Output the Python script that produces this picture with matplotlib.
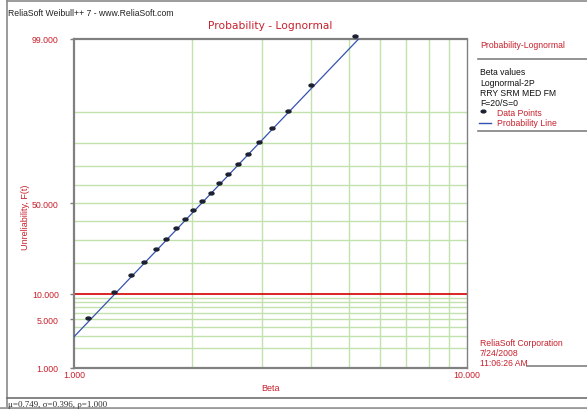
import numpy as np
import matplotlib
matplotlib.use('Agg')
import matplotlib.pyplot as plt
from matplotlib.lines import Line2D
from matplotlib.path import Path
from matplotlib.transforms import Affine2D
from matplotlib.ticker import FixedLocator, NullLocator
from statistics import NormalDist

# Beta values (time) and their unreliability positions in percent
beta = [1.084, 1.262, 1.397, 1.510, 1.617, 1.715, 1.815, 1.917, 2.012, 2.121,
        2.232, 2.343, 2.470, 2.614, 2.767, 2.957, 3.190, 3.510, 4.016, 5.188]
unrel = [5.2, 10.3, 15.5, 20.3, 25.6, 30.7, 36.1, 40.9, 46.0, 51.0,
         55.9, 61.1, 65.9, 70.7, 75.6, 80.6, 85.6, 90.4, 95.3, 99.1]

# fitted lognormal parameters
mu = 0.749
sigma = 0.396
rho = 1.000

y_major = [1, 5, 10, 50, 99]
y_grid = [2, 3, 4, 5, 6, 7, 8, 9, 20, 30, 40, 50, 60, 70, 80, 90]
x_grid = [2, 3, 4, 5, 6, 7, 8, 9]

RED = '#c8202c'
GRID = '#c2e2ad'
SPINE = '#808080'
BLUE = '#3552b0'
SANS = 'Liberation Sans'

W, H = 587, 410
nd = NormalDist()
_ppf = np.vectorize(nd.inv_cdf, otypes=[float])
_cdf = np.vectorize(nd.cdf, otypes=[float])


def fx(x):
    return x / W


def fy(y):
    return 1 - y / H


def prob_fwd(p):
    p = np.clip(np.asarray(p, dtype=float) / 100.0, 1e-9, 1 - 1e-9)
    return _ppf(p)


def prob_inv(z):
    return _cdf(np.asarray(z, dtype=float)) * 100.0


fig = plt.figure(figsize=(W / 100, H / 100), dpi=100)
ax = fig.add_axes([fx(74), fy(368.5), fx(467 - 74), (368.5 - 39.5) / H])

ax.set_xscale('log')
ax.set_yscale('function', functions=(prob_fwd, prob_inv))
ax.set_xlim(1, 10)
ax.set_ylim(1, 99)

# grid
for g in y_grid:
    ax.axhline(g, color=GRID, lw=1.0, zorder=1)
for g in x_grid:
    ax.axvline(g, color=GRID, lw=1.0, zorder=1)
ax.axhline(10, color='#d40000', lw=1.2, zorder=2)

# probability line
t = np.geomspace(1, 10, 400)
F = prob_inv((np.log(t) - mu) / sigma)
ax.plot(t, F, color=BLUE, lw=0.9, zorder=3)

# data points as small flat dots
dot = Path.unit_circle().transformed(Affine2D().scale(1.7, 1.0))
ax.plot(beta, unrel, ls='none', marker=dot, ms=3.6, color='#1c2030',
        zorder=4, clip_on=False)

ax.yaxis.set_major_locator(FixedLocator(y_major))
ax.yaxis.set_minor_locator(NullLocator())
ax.set_yticklabels([f'{v:.3f}' for v in y_major])
ax.xaxis.set_major_locator(FixedLocator([1, 10]))
ax.xaxis.set_minor_locator(NullLocator())
ax.set_xticklabels(['1.000', '10.000'])

ax.tick_params(axis='y', length=3, width=1, color=SPINE, pad=8,
               labelsize=6.3, labelcolor=RED)
ax.tick_params(axis='x', length=0, pad=2, labelsize=6.3, labelcolor=RED)
for lab in ax.get_xticklabels() + ax.get_yticklabels():
    lab.set_family(SANS)

for side in ['left', 'bottom', 'top']:
    ax.spines[side].set_color(SPINE)
    ax.spines[side].set_linewidth(1.6)
ax.spines['right'].set_color(SPINE)
ax.spines['right'].set_linewidth(1.0)

# titles and axis labels
fig.text(fx(8), fy(13), 'ReliaSoft Weibull++ 7 - www.ReliaSoft.com',
         family=SANS, size=6.2, color='#222222', ha='left', va='center')
fig.text(fx(270.5), fy(26), 'Probability - Lognormal', family='DejaVu Sans',
         size=7.7, color=RED, ha='center', va='center')
fig.text(fx(270), fy(389), 'Beta', family=SANS, size=6.5, color=RED,
         ha='center', va='center')
fig.text(fx(25), fy(217), 'Unreliability, F(t)', family=SANS, size=6.5,
         color=RED, ha='center', va='center', rotation=90)

# side panel
fig.text(fx(480), fy(46), 'Probability-Lognormal', family=SANS, size=6.2,
         color=RED, va='center')
info = ['Beta values', 'Lognormal-2P', 'RRY SRM MED FM', 'F=20/S=0']
for i, s in enumerate(info):
    fig.text(fx(480), fy(73 + 10.2 * i), s, family=SANS, size=6.2,
             color='#111111', va='center')
fig.text(fx(497), fy(114), 'Data Points', family=SANS, size=6.2, color=RED,
         va='center')
fig.text(fx(497), fy(124), 'Probability Line', family=SANS, size=6.2,
         color=RED, va='center')
fig.add_artist(Line2D([fx(483)], [fy(112)], ls='none', marker=dot, ms=3.4,
                      color='#1c2030'))
fig.add_artist(Line2D([fx(479), fx(491)], [fy(124), fy(124)], color=BLUE,
                      lw=1.0))

foot = ['ReliaSoft Corporation', '7/24/2008', '11:06:26 AM']
for i, s in enumerate(foot):
    fig.text(fx(480), fy(344 + 9.8 * i), s, family=SANS, size=6.2, color=RED,
             va='center')

# frame and separator lines
lines = [
    ([6.5, 587], [1.5, 1.5], 1.2, '#8a8a8a'),
    ([6.5, 6.5], [1.5, 408], 1.2, '#8a8a8a'),
    ([6.5, 587], [399, 399], 1.2, '#707070'),
    ([0, 587], [408.5, 408.5], 2.0, '#9a9a9a'),
    ([478, 587], [60, 60], 1.2, '#808080'),
    ([478, 587], [132, 132], 1.2, '#808080'),
    ([527, 587], [367, 367], 1.2, '#808080'),
]
for xs, ys, lw, c in lines:
    fig.add_artist(Line2D([fx(v) for v in xs], [fy(v) for v in ys],
                          lw=lw, color=c))

fig.text(fx(8), fy(405), f'\u03bc={mu:.3f}, \u03c3={sigma:.3f}, \u03c1={rho:.3f}',
         family='Liberation Serif', size=6.5, color='#333333', va='center')

fig.savefig('out.png', dpi=100)
